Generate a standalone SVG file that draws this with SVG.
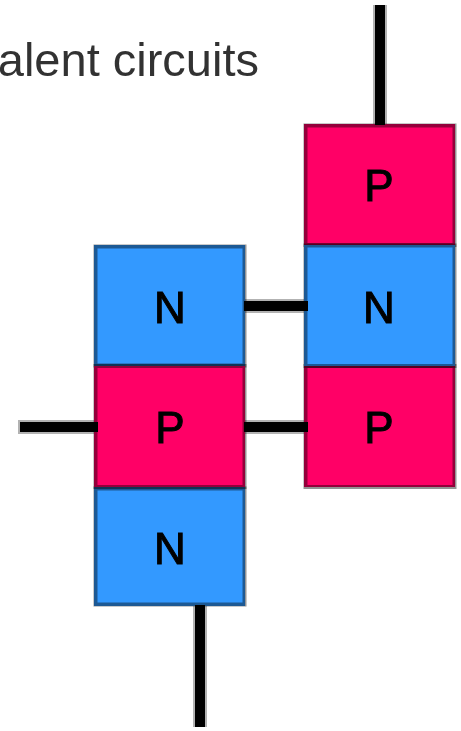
<svg xmlns="http://www.w3.org/2000/svg" width="461" height="731" viewBox="0 0 461 731">
<defs><filter id="soft" x="-5%" y="-20%" width="110%" height="140%"><feGaussianBlur stdDeviation="0.7"/></filter></defs>
<style>
.p{fill:#ff0066}.n{fill:#3399ff}
.b{stroke:#000;stroke-opacity:.42;stroke-width:4}
.l{font-family:"Liberation Sans",Arial,sans-serif;font-size:44px;fill:#000;stroke:#000;stroke-width:1;text-anchor:middle;filter:url(#soft)}
.h{stroke:#000;stroke-opacity:.3;stroke-width:14;fill:none}
.w{stroke:#000;stroke-width:10;fill:none}
</style>
<rect width="461" height="731" fill="#fff"/>
<text x="259" y="76" font-family="'Liberation Sans',Arial,sans-serif" font-size="47" fill="#333" text-anchor="end" filter="url(#soft)">alent circuits</text>
<g id="left-n1"><rect class="n" x="94" y="245" width="151" height="121"/><rect class="b" x="95.500" y="246.500" width="149" height="119" fill="none"/><text class="l" x="170" y="323">N</text></g>
<g id="left-n2"><rect class="n" x="94" y="487" width="151" height="119"/><rect class="b" x="95.500" y="488.500" width="149" height="116" fill="none"/><text class="l" x="170" y="564">N</text></g>
<g id="left-p"><rect class="p" x="94" y="366" width="151" height="121"/><rect class="b" x="95.500" y="366" width="149" height="121" fill="none"/><text class="l" x="170" y="443">P</text></g>
<g id="right-p1"><rect class="p" x="304" y="124" width="151" height="121"/><rect class="b" x="305.500" y="125.500" width="149" height="119.500" fill="none"/><text class="l" x="379" y="201">P</text></g>
<g id="right-p2"><rect class="p" x="304" y="366" width="151" height="121"/><rect class="b" x="305.500" y="366" width="149" height="121" fill="none"/><text class="l" x="379" y="443">P</text></g>
<g id="right-n"><rect class="n" x="304" y="245" width="151" height="121"/><rect class="b" x="305.500" y="245.500" width="149" height="120.500" fill="none"/><text class="l" x="379" y="323">N</text></g>
<g id="connectors">
<path class="h" d="M380 5V124M245 306H304M245 427H304M18 427H94M200 606V727"/>
<path class="w" d="M380 5V125M244 306H308M244 427H308M20 427H98M200 605V727"/>
</g>
</svg>
